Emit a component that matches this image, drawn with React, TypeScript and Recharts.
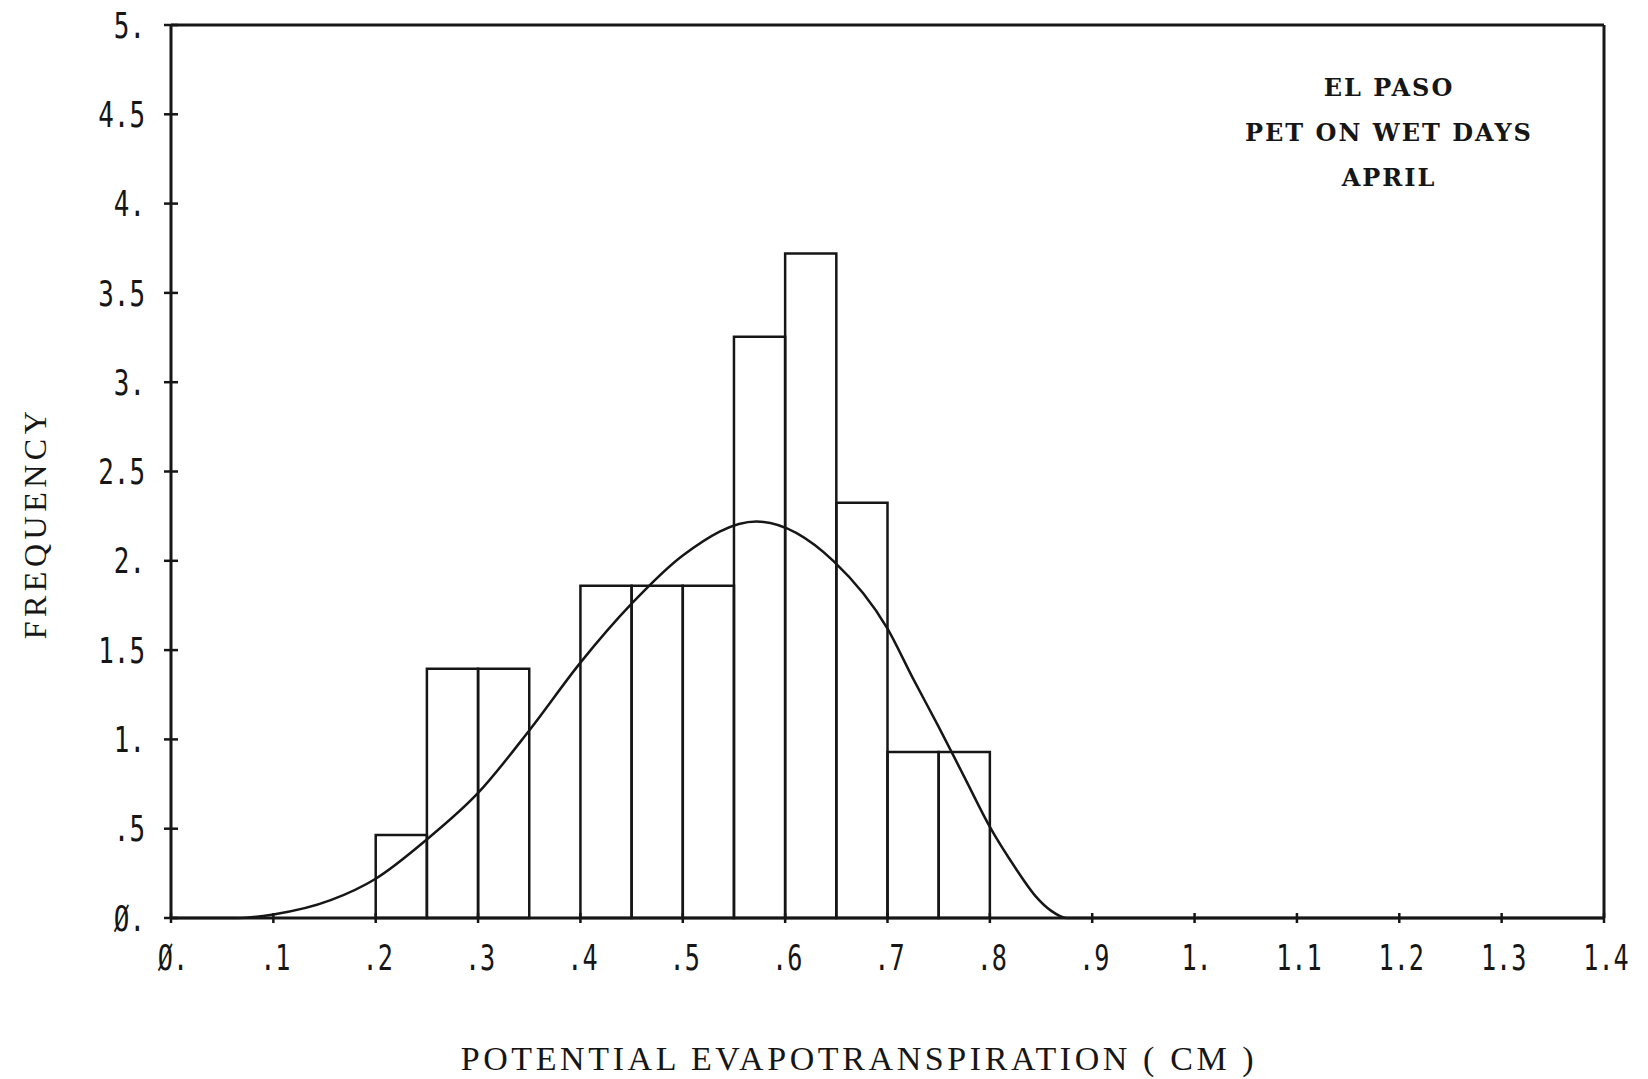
import React from "react";
import {
  ComposedChart,
  Line,
  XAxis,
  YAxis,
  ReferenceArea,
  ReferenceLine,
} from "recharts";

// histogram bins (left edge, width .05) and their frequency density
const binStart = [0.2, 0.25, 0.3, 0.4, 0.45, 0.5, 0.55, 0.6, 0.65, 0.7, 0.75];
const binFreq = [0.465, 1.395, 1.395, 1.86, 1.86, 1.86, 3.255, 3.72, 2.325, 0.93, 0.93];
const binWidth = 0.05;

// fitted density curve
const curveX = [0, 0.065, 0.1, 0.156, 0.2, 0.25, 0.3, 0.35, 0.4, 0.45, 0.5, 0.572, 0.647, 0.7, 0.725, 0.75, 0.775, 0.8, 0.825, 0.845, 0.86, 0.875, 1.4];
const curveY = [0, 0, 0.02, 0.1, 0.22, 0.44, 0.7, 1.05, 1.43, 1.76, 2.03, 2.22, 2.0, 1.62, 1.34, 1.07, 0.79, 0.51, 0.28, 0.12, 0.04, 0, 0];

const xTicks = [0, 0.1, 0.2, 0.3, 0.4, 0.5, 0.6, 0.7, 0.8, 0.9, 1, 1.1, 1.2, 1.3, 1.4];
const yTicks = [0, 0.5, 1, 1.5, 2, 2.5, 3, 3.5, 4, 4.5, 5];

const noteLines = ["EL PASO", "PET ON WET DAYS", "APRIL"];

const INK = "#161616";

const curveData = curveX.map((x, i) => ({ x, pet: curveY[i] }));

// plotter style numbers: slashed zero, trailing point on integers, no leading zero
function plotLabel(v: number): string {
  if (v === 0) return "Ø.";
  if (Number.isInteger(v)) return `${v}.`;
  const s = String(v);
  return s.startsWith("0") ? s.slice(1) : s;
}

function YTick({ x, y, payload }: any) {
  const ax = x + 8;
  return (
    <g>
      <line x1={ax - 7} x2={ax + 7} y1={y} y2={y} stroke={INK} strokeWidth={2.5} />
      <text
        transform={`translate(${ax - 26},${y}) scale(0.72,1)`}
        textAnchor="end"
        dominantBaseline="central"
        fontFamily="DejaVu Sans Mono"
        fontSize={36}
        fill={INK}
      >
        {plotLabel(payload.value)}
      </text>
    </g>
  );
}

function XTick({ x, y, payload }: any) {
  const ay = y - 5;
  return (
    <g>
      <line x1={x} x2={x} y1={ay - 5} y2={ay + 5} stroke={INK} strokeWidth={2.5} />
      <text
        transform={`translate(${x + 2},${ay + 40}) scale(0.72,1)`}
        textAnchor="middle"
        dominantBaseline="central"
        fontFamily="DejaVu Sans Mono"
        fontSize={35}
        fill={INK}
      >
        {plotLabel(payload.value)}
      </text>
    </g>
  );
}

export default function App() {
  return (
    <div style={{ position: "absolute", left: 0, top: 0, width: 1648, height: 1079, background: "#fff" }}>
      <ComposedChart
        width={1648}
        height={1079}
        data={curveData}
        margin={{ top: 25, right: 44, bottom: 101, left: 0 }}
      >
        <XAxis
          dataKey="x"
          type="number"
          domain={[0, 1.4]}
          ticks={xTicks}
          interval={0}
          height={60}
          tickSize={5}
          tickMargin={0}
          tickLine={false}
          axisLine={{ stroke: INK, strokeWidth: 3 }}
          tick={<XTick />}
        />
        <YAxis
          type="number"
          domain={[0, 5]}
          ticks={yTicks}
          interval={0}
          width={171}
          tickSize={8}
          tickMargin={0}
          tickLine={false}
          axisLine={{ stroke: INK, strokeWidth: 3 }}
          tick={<YTick />}
        />
        <ReferenceLine y={5} stroke={INK} strokeWidth={3} />
        <ReferenceLine x={1.4} stroke={INK} strokeWidth={3} />
        {binStart.map((x0, i) => (
          <ReferenceArea
            key={x0}
            x1={x0}
            x2={x0 + binWidth}
            y1={0}
            y2={binFreq[i]}
            fill="none"
            fillOpacity={0}
            stroke={INK}
            strokeWidth={2.5}
            strokeOpacity={1}
          />
        ))}
        <Line
          dataKey="pet"
          type="monotone"
          stroke={INK}
          strokeWidth={2.5}
          dot={false}
          activeDot={false}
          isAnimationActive={false}
        />
      </ComposedChart>

      {noteLines.map((t, i) => (
        <div
          key={t}
          style={{
            position: "absolute",
            left: 1189,
            width: 400,
            top: 73 + i * 45,
            textAlign: "center",
            fontFamily: "DejaVu Serif",
            fontWeight: "bold",
            fontSize: 24,
            letterSpacing: 2,
            lineHeight: "30px",
            color: INK,
          }}
        >
          {t}
        </div>
      ))}

      <div
        style={{
          position: "absolute",
          left: 359,
          width: 1000,
          top: 1038,
          textAlign: "center",
          fontFamily: "Liberation Serif",
          fontSize: 34,
          letterSpacing: 3.6,
          lineHeight: "42px",
          color: INK,
        }}
      >
        POTENTIAL EVAPOTRANSPIRATION ( CM )
      </div>

      <div
        style={{
          position: "absolute",
          left: 35 - 150,
          width: 300,
          top: 523 - 21,
          textAlign: "center",
          fontFamily: "Liberation Serif",
          fontSize: 32,
          letterSpacing: 4.5,
          lineHeight: "42px",
          color: INK,
          transform: "rotate(-90deg)",
        }}
      >
        FREQUENCY
      </div>
    </div>
  );
}
